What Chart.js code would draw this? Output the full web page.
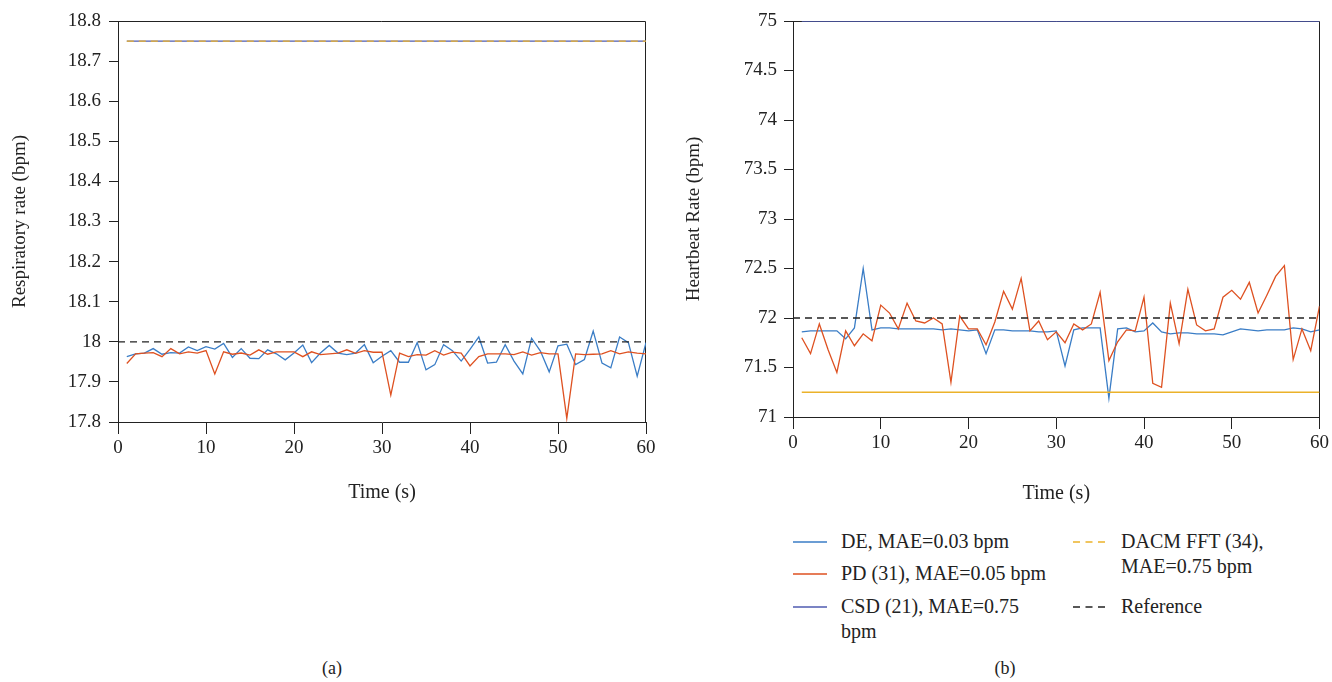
<!DOCTYPE html>
<html>
<head>
<meta charset="utf-8">
<script src="https://cdn.jsdelivr.net/npm/chart.js"></script>
<style>
  body { margin: 0; background: #fff; width: 1332px; height: 682px; position: relative; overflow: hidden;
         font-family: "Liberation Serif", serif; color: #222; }
  #chartA { position: absolute; left: 0; top: 0; }
  #chartB { position: absolute; left: 670px; top: 0; }
  .cap { position: absolute; top: 658px; font-size: 18px; transform: translateX(-50%); }
  .item { position: absolute; font-size: 20px; line-height: 25px; display: flex; align-items: flex-start; }
  .item svg { flex: none; margin-top: 11px; margin-right: 14px; }
</style>
</head>
<body>
<canvas id="chartA" width="680" height="520"></canvas>
<canvas id="chartB" width="662" height="520"></canvas>
<div class="cap" style="left:332px">(a)</div>
<div class="cap" style="left:1005px">(b)</div>
<div id="legend"></div>

<script>
// time axis (s)
var timeSec = [1, 2, 3, 4, 5, 6, 7, 8, 9, 10, 11, 12, 13, 14, 15, 16, 17, 18, 19, 20,
  21, 22, 23, 24, 25, 26, 27, 28, 29, 30, 31, 32, 33, 34, 35, 36, 37, 38, 39, 40,
  41, 42, 43, 44, 45, 46, 47, 48, 49, 50, 51, 52, 53, 54, 55, 56, 57, 58, 59, 60];

// (a) respiratory rate
var deResp = [17.963, 17.970, 17.972, 17.983, 17.969, 17.973, 17.972, 17.987, 17.978, 17.988,
  17.982, 17.996, 17.961, 17.983, 17.959, 17.958, 17.980, 17.970, 17.955, 17.972,
  17.992, 17.948, 17.972, 17.991, 17.972, 17.968, 17.972, 17.993, 17.948, 17.964,
  17.978, 17.949, 17.949, 17.998, 17.930, 17.943, 17.993, 17.978, 17.952, 17.981,
  18.012, 17.947, 17.949, 17.993, 17.952, 17.920, 18.009, 17.977, 17.925, 17.990,
  17.994, 17.943, 17.956, 18.027, 17.947, 17.935, 18.012, 17.998, 17.914, 17.998];
var pdResp = [17.946, 17.970, 17.972, 17.973, 17.963, 17.983, 17.970, 17.975, 17.972, 17.978,
  17.920, 17.975, 17.969, 17.972, 17.967, 17.980, 17.969, 17.975, 17.975, 17.975,
  17.963, 17.975, 17.968, 17.970, 17.972, 17.980, 17.971, 17.978, 17.974, 17.974,
  17.867, 17.972, 17.963, 17.968, 17.967, 17.978, 17.967, 17.974, 17.972, 17.940,
  17.963, 17.970, 17.970, 17.970, 17.968, 17.975, 17.967, 17.973, 17.970, 17.970,
  17.809, 17.970, 17.968, 17.969, 17.970, 17.978, 17.970, 17.975, 17.972, 17.970];
var csdResp = 18.75;
var dacmResp = 18.75;
var refResp = 18;

// (b) heartbeat rate
var deHeart = [71.86, 71.87, 71.87, 71.87, 71.87, 71.79, 71.90, 72.50, 71.88, 71.90,
  71.90, 71.89, 71.89, 71.89, 71.89, 71.89, 71.88, 71.89, 71.88, 71.87,
  71.88, 71.64, 71.88, 71.88, 71.87, 71.87, 71.87, 71.86, 71.86, 71.87,
  71.515, 71.88, 71.90, 71.90, 71.90, 71.19, 71.89, 71.90, 71.86, 71.87,
  71.95, 71.86, 71.84, 71.85, 71.85, 71.84, 71.84, 71.84, 71.83, 71.86,
  71.89, 71.88, 71.87, 71.88, 71.88, 71.88, 71.90, 71.89, 71.86, 71.88];
var pdHeart = [71.80, 71.64, 71.94, 71.68, 71.45, 71.87, 71.72, 71.84, 71.77, 72.13,
  72.05, 71.89, 72.15, 71.97, 71.95, 72.00, 71.94, 71.35, 72.02, 71.89,
  71.89, 71.73, 71.96, 72.27, 72.09, 72.40, 71.87, 71.97, 71.78, 71.86,
  71.75, 71.94, 71.88, 71.94, 72.26, 71.57, 71.76, 71.88, 71.87, 72.21,
  71.34, 71.30, 72.15, 71.74, 72.29, 71.93, 71.87, 71.89, 72.21, 72.28,
  72.19, 72.36, 72.05, 72.23, 72.42, 72.53, 71.58, 71.89, 71.67, 72.12];
var csdHeart = 75;
var dacmHeart = 71.25;
var refHeart = 72;

var refSpan = [0, 60];
var seriesNames = ["DE, MAE=0.03 bpm", "PD (31), MAE=0.05 bpm", "CSD (21), MAE=0.75 bpm",
  "DACM FFT (34), MAE=0.75 bpm", "Reference"];
var seriesColors = ["#3a7dc6", "#de5121", "#4f5bb0", "#ebb22a", "#222222"];

Chart.defaults.font.family = "'Liberation Serif', serif";
Chart.defaults.color = "#222";
Chart.defaults.animation = false;

function paired(values) {
  return timeSec.map(function (t, k) { return { x: t, y: values[k] }; });
}
function flat(v, span) {
  return span.map(function (t) { return { x: t, y: v }; });
}
function line(i, pts, order, dash) {
  return {
    label: seriesNames[i], data: pts, borderColor: seriesColors[i],
    borderDash: dash || [], borderWidth: 1.3, pointRadius: 0, tension: 0, order: order
  };
}

// top and right spines of the axes box
var frame = {
  id: 'frame',
  beforeDatasetsDraw: function (c) {
    var a = c.chartArea, ctx = c.ctx;
    ctx.save();
    ctx.strokeStyle = '#222';
    ctx.lineWidth = 1;
    ctx.beginPath();
    ctx.moveTo(a.left, a.top + 0.5);
    ctx.lineTo(Math.round(a.right) - 0.5, a.top + 0.5);
    ctx.lineTo(Math.round(a.right) - 0.5, a.bottom);
    ctx.stroke();
    ctx.restore();
  }
};

function fmt(v) { return String(Number(v.toFixed(2))); }

function makeOptions(o) {
  return {
    responsive: false,
    layout: { padding: { left: 0, top: 21, right: o.padRight, bottom: 0 } },
    plugins: { legend: { display: false }, tooltip: { enabled: false } },
    scales: {
      x: {
        type: 'linear', min: 0, max: 60,
        afterFit: function (s) { s.height = o.xHeight; },
        ticks: { stepSize: 10, font: { size: 19 }, padding: 3, maxRotation: 0, color: '#222' },
        grid: { drawOnChartArea: false, drawTicks: true, tickLength: 12, color: '#222' },
        border: { color: '#222', width: 1 },
        title: { display: true, text: 'Time (s)', font: { size: 20 }, padding: { top: 0, bottom: o.xTitlePad }, color: '#222' }
      },
      y: {
        min: o.yMin, max: o.yMax,
        afterFit: function (s) { s.width = o.yWidth; },
        ticks: { stepSize: o.yStep, font: { size: 19 }, padding: o.yTickPad, callback: fmt, color: '#222' },
        grid: { drawOnChartArea: false, drawTicks: true, tickLength: 9, color: '#222' },
        border: { color: '#222', width: 1 },
        title: { display: true, text: o.yTitle, font: { size: 19 }, padding: { top: o.yTitlePad, bottom: 0 }, color: '#222' }
      }
    }
  };
}

new Chart(document.getElementById('chartA'), {
  type: 'line',
  data: {
    datasets: [
      line(4, flat(refResp, refSpan), 0, [7, 5]),
      line(3, flat(dacmResp, [timeSec[0], timeSec[timeSec.length - 1]]), 1, [7, 5]),
      line(2, flat(csdResp, [timeSec[0], timeSec[timeSec.length - 1]]), 2),
      line(1, paired(pdResp), 3),
      line(0, paired(deResp), 4)
    ]
  },
  options: makeOptions({ padRight: 34, xHeight: 98, xTitlePad: 15, yMin: 17.8, yMax: 18.8, yStep: 0.1,
    yWidth: 118, yTickPad: 8, yTitle: 'Respiratory rate (bpm)', yTitlePad: 9 }),
  plugins: [frame]
});

new Chart(document.getElementById('chartB'), {
  type: 'line',
  data: {
    datasets: [
      line(4, flat(refHeart, refSpan), 0, [7, 5]),
      line(3, flat(dacmHeart, [timeSec[0], timeSec[timeSec.length - 1]]), 1),
      line(2, flat(csdHeart, [timeSec[0], timeSec[timeSec.length - 1]]), 2),
      line(1, paired(pdHeart), 3),
      line(0, paired(deHeart), 4)
    ]
  },
  options: makeOptions({ padRight: 12, xHeight: 103, xTitlePad: 14, yMin: 71, yMax: 75, yStep: 0.5,
    yWidth: 123, yTickPad: 7, yTitle: 'Heartbeat Rate (bpm)', yTitlePad: 13 }),
  plugins: [frame]
});

// legend under panel (b)
var legendSpots = [[793, 529, 212], [793, 561, 212], [793, 594, 200], [1073, 529, 170], [1073, 594, 170]];
var legendDash = ["", "", "", "7 5.5", "7 5.5"];
var legend = document.getElementById('legend');
seriesNames.forEach(function (name, i) {
  var d = document.createElement('div');
  d.className = 'item';
  d.style.left = legendSpots[i][0] + 'px';
  d.style.top = legendSpots[i][1] + 'px';
  d.innerHTML = '<svg width="34" height="4"><line x1="0" y1="2" x2="34" y2="2" stroke="' + seriesColors[i] +
    '" stroke-width="1.4" stroke-dasharray="' + legendDash[i] + '"/></svg><span style="width:' +
    legendSpots[i][2] + 'px">' + name + '</span>';
  legend.appendChild(d);
});
</script>
</body>
</html>
